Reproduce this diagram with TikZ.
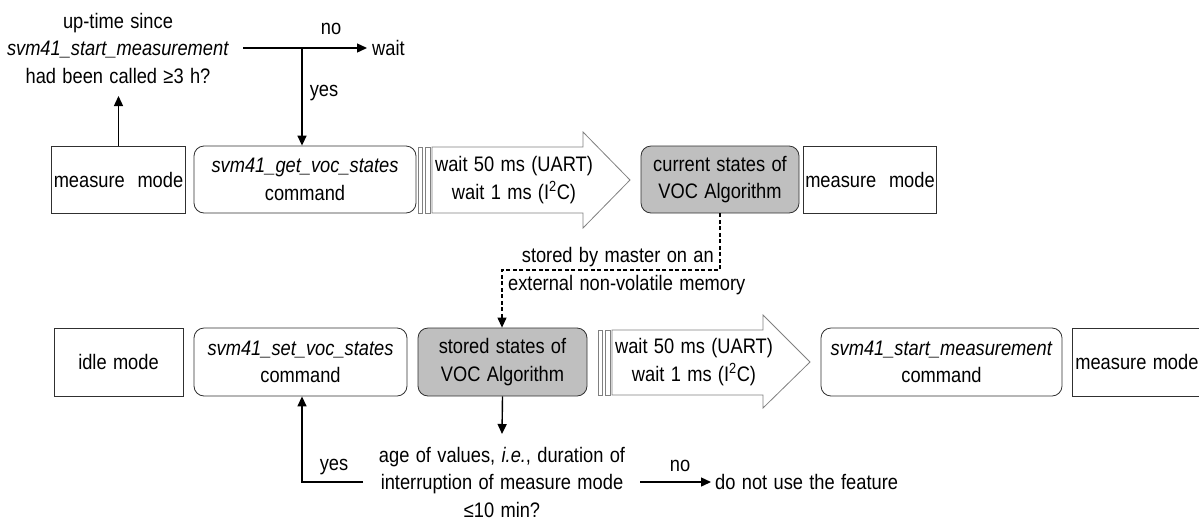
\documentclass[tikz,border=0pt]{standalone}
\usepackage{fontspec}
\setmainfont{Liberation Sans}[FakeStretch=0.87,WordSpace=1.25]
\usetikzlibrary{arrows.meta}
\definecolor{boxgray}{HTML}{BFBFBF}
\definecolor{edge}{HTML}{303030}
\definecolor{blockedge}{HTML}{808080}
\begin{document}
\begin{tikzpicture}[x=1pt,y=-1pt,
  font=\fontsize{21}{27.5}\selectfont,
  box/.style={draw=edge,line width=0.8pt,minimum height=67pt,inner sep=2pt,align=center},
  rbox/.style={box,rounded corners=10pt},
  gbox/.style={rbox,fill=boxgray},
  txt/.style={align=center,inner sep=2pt},
  arr/.style={line width=1.4pt,-{Triangle[length=10pt,width=9pt]}},
  ln/.style={line width=1.4pt},
  block/.style={draw=blockedge,line width=0.8pt,fill=white}]
\useasboundingbox (0,0) rectangle (1199,520);

% ---------- top row ----------
\node[box,minimum width=129pt] (mm1) at (118.5,179.5) {measure\ \ mode};
\node[rbox,minimum width=222pt] (get) at (305,179.5) {\textit{svm41\_get\_voc\_states}\\command};
\draw[block] (418,147) rectangle (422,213);
\draw[block] (425,147) rectangle (430,213);
\draw[block] (432,147) -- (583,147) -- (583,132) -- (630,180) -- (583,228) -- (583,213) -- (432,213) -- cycle;
\node[txt] (w1) at (514,180) {wait 50 ms (UART)\\wait 1 ms (I\textsuperscript{2}C)};
\node[gbox,minimum width=158pt] (cur) at (720,179.5) {current states of\\VOC Algorithm};
\node[box,minimum width=120pt] (mm2) at (870,179.5) {measure\ \ mode};

% top decision
\node[txt] (q1) at (118,48) {up-time since\\\textit{svm41\_start\_measurement}\\had been called ≥3 h?};
\node[txt,anchor=west,inner sep=5pt] (wait) at (367,48) {wait};
\coordinate (q1tip) at (118.5,96);
\coordinate (q1o) at (243,48);
\coordinate (j1) at (302,48);
\draw[arr] (mm1.north) -- (q1tip);
\draw[ln] (q1o) -- (j1);
\draw[arr] (j1) -- (wait.west);
\draw[arr] (j1) -- (j1 |- get.north);
\node[txt] (no1) at (331,29) {no};
\node[txt] (yes1) at (324,93) {yes};

% ---------- dashed connection ----------
\coordinate (d1) at (720,270);
\coordinate (d2) at (502,270);
\coordinate (d3) at (502,316);
\draw[line width=1.1pt,dash pattern=on 4pt off 2.5pt] (cur.south) -- (d1) -- (d2) -- (d3);
\node[gbox,minimum width=169pt,minimum height=68pt] (stored) at (502.5,362) {stored states of\\VOC Algorithm};
\draw[line width=1.1pt,-{Triangle[length=10pt,width=9pt]}] (d3) -- (d3 |- stored.north);
\node[txt,anchor=east] (lab1) at (716,257) {stored by master on an};
\node[txt,anchor=west] (lab2) at (506,285) {external non-volatile memory};

% ---------- bottom row ----------
\node[box,minimum width=129pt,minimum height=68pt] (idle) at (118.5,362) {idle mode};
\node[rbox,minimum width=213pt,minimum height=68pt] (set) at (300.5,362) {\textit{svm41\_set\_voc\_states}\\command};
\draw[block] (598,330) rectangle (602,395);
\draw[block] (605,330) rectangle (610,395);
\draw[block] (612,330) -- (763,330) -- (763,315) -- (810,362) -- (763,408) -- (763,395) -- (612,395) -- cycle;
\node[txt] (w2) at (694,362) {wait 50 ms (UART)\\wait 1 ms (I\textsuperscript{2}C)};
\node[rbox,minimum width=241pt,minimum height=68pt] (start) at (941.5,362) {\textit{svm41\_start\_measurement}\\command};
\node[box,minimum width=129pt,minimum height=68pt,anchor=west] (mm3) at (1072,362) {measure mode};

% bottom decision
\node[txt] (q2) at (502,482) {age of values, \textit{i.e.}, duration of\\interruption of measure mode\\≤10 min?};
\coordinate (q2tip) at (502,434);
\draw[arr] (stored.south) -- (q2tip);
\coordinate (y1) at (363,482);
\coordinate (y2) at (302,482);
\draw[arr] (y1) -- (y2) -- (y2 |- set.south);
\node[txt] (yes2) at (334,467) {yes};
\coordinate (n1) at (640,482);
\node[txt,anchor=west,inner sep=4pt] (dont) at (711,482) {do not use the feature};
\draw[arr] (n1) -- (dont.west);
\node[txt] (no2) at (680,466) {no};
\end{tikzpicture}
\end{document}
